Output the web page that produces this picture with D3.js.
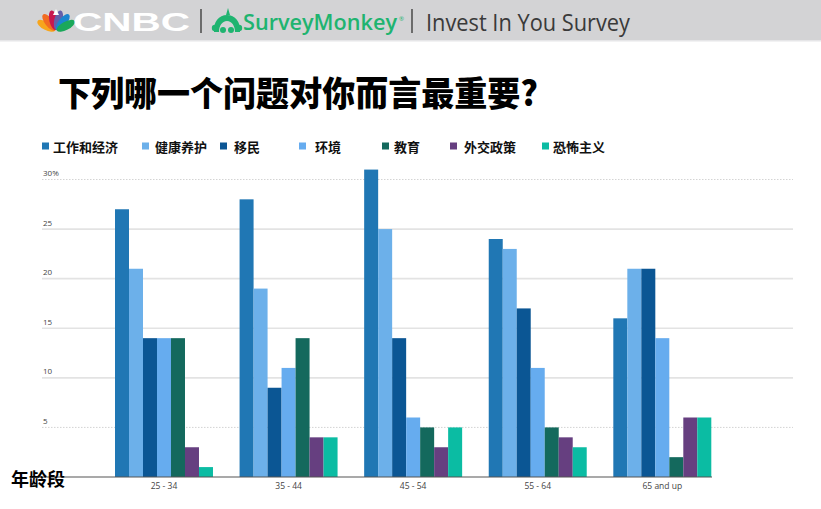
<!DOCTYPE html>
<html><head><meta charset="utf-8">
<script src="https://cdn.jsdelivr.net/npm/d3@7"></script>
<style>
html,body{margin:0;padding:0;background:#fff;}
svg{display:block;}
</style></head>
<body>
<svg id="chart" width="821" height="509"></svg>
<script>
// ---------- data ----------
const categories = ["25 - 34", "35 - 44", "45 - 54", "55 - 64", "65 and up"];
const seriesNames = ["工作和经济", "健康养护", "移民", "环境", "教育", "外交政策", "恐怖主义"];
const workEconomy   = [27, 28, 31, 24, 16];
const healthcare    = [21, 19, 25, 23, 21];
const immigration   = [14,  9, 14, 17, 21];
const environment   = [14, 11,  6, 11, 14];
const education     = [14, 14,  5,  5,  2];
const foreignPolicy = [ 3,  4,  3,  4,  6];
const terrorism     = [ 1,  4,  5,  3,  6];
const yTicks = [5, 10, 15, 20, 25, 30];
const yTickLabels = ["5", "10", "15", "20", "25", "30%"];
const title = "下列哪一个问题对你而言最重要?";
const xAxisTitle = "年龄段";

const seriesValues = [workEconomy, healthcare, immigration, environment, education, foreignPolicy, terrorism];
const colors = ["#2077b4", "#6cb0ea", "#0b5694", "#66acef", "#14695d", "#663f80", "#0bbca3"];

const svg = d3.select("#chart");

// ---------- header ----------
const header = svg.append("g");
header.append("rect").attr("x", 0).attr("y", 0).attr("width", 821).attr("height", 40).attr("fill", "#d3d3d5");
header.append("rect").attr("x", 0).attr("y", 40).attr("width", 821).attr("height", 1.5).attr("fill", "#e6e6e8");

// peacock
const peacock = header.append("g").attr("transform", "translate(56,31)");
const featherColors = ["#f7a51c", "#f26b21", "#c8174f", "#6460aa", "#1b86cf", "#1aa85a"];
const featherAngles = [-62, -38, -13, 13, 38, 62];
featherColors.forEach((c, i) => {
  peacock.append("ellipse")
    .attr("cx", 0).attr("cy", -11).attr("rx", 4.2).attr("ry", 10)
    .attr("fill", c)
    .attr("transform", `rotate(${featherAngles[i]})`);
});
peacock.append("path").attr("d", "M-3,-16 L0,-22 L3,-16 Z").attr("fill", "#fff");

header.append("text")
  .attr("x", 73).attr("y", 31)
  .attr("font-family", "Liberation Sans, Arial, sans-serif")
  .attr("font-weight", "900").attr("font-size", 26)
  .attr("fill", "#ffffff")
  .attr("textLength", 117).attr("lengthAdjust", "spacingAndGlyphs")
  .text("CNBC");

header.append("line").attr("x1", 201).attr("x2", 201).attr("y1", 9).attr("y2", 33)
  .attr("stroke", "#333").attr("stroke-width", 1.3);

// SurveyMonkey icon
const sm = header.append("g").attr("transform", "translate(227,24)").attr("fill", "#1fb470");
sm.append("path").attr("d", "M-13,8 C-14,-2 -8,-9 0,-9 C8,-9 14,-2 13,8 L8,8 C8,2 5,-3 0,-3 C-5,-3 -8,2 -8,8 Z");
sm.append("circle").attr("cx", -12).attr("cy", 4).attr("r", 3.2);
sm.append("circle").attr("cx", 12).attr("cy", 4).attr("r", 3.2);
sm.append("circle").attr("cx", -4).attr("cy", 6).attr("r", 3);
sm.append("circle").attr("cx", 4).attr("cy", 6).attr("r", 3);
sm.append("path").attr("d", "M-1,-9 L1,-16 L3,-9 Z");

header.append("text")
  .attr("x", 243).attr("y", 30)
  .attr("font-family", "Open Sans, sans-serif")
  .attr("font-weight", "600").attr("font-size", 21)
  .attr("fill", "#1fb470")
  .attr("textLength", 154).attr("lengthAdjust", "spacingAndGlyphs")
  .text("SurveyMonkey");
header.append("text")
  .attr("x", 399).attr("y", 21)
  .attr("font-family", "Open Sans, sans-serif")
  .attr("font-size", 6).attr("fill", "#1fb470")
  .text("®");

header.append("line").attr("x1", 412).attr("x2", 412).attr("y1", 9).attr("y2", 33)
  .attr("stroke", "#333").attr("stroke-width", 1.3);

header.append("text")
  .attr("x", 426).attr("y", 31)
  .attr("font-family", "Open Sans, sans-serif")
  .attr("font-weight", "400").attr("font-size", 23)
  .attr("fill", "#3a3a3a")
  .attr("textLength", 204).attr("lengthAdjust", "spacingAndGlyphs")
  .text("Invest In You Survey");

// ---------- title ----------
svg.append("text")
  .attr("x", 58).attr("y", 91)
  .attr("dominant-baseline", "central")
  .attr("font-family", "Noto Sans CJK SC, sans-serif")
  .attr("font-weight", "900").attr("font-size", 34)
  .attr("fill", "#000")
  .attr("textLength", 480).attr("lengthAdjust", "spacingAndGlyphs")
  .text(title);

// ---------- legend ----------
const legendSquareX = [42, 142, 220, 299, 382, 450, 542];
const legendTextX = [53, 155, 234, 315, 394, 464, 553];
const legend = svg.append("g");
seriesNames.forEach((name, i) => {
  legend.append("rect")
    .attr("x", legendSquareX[i]).attr("y", 142.5).attr("width", 7).attr("height", 7)
    .attr("fill", colors[i]);
  legend.append("text")
    .attr("x", legendTextX[i]).attr("y", 146)
    .attr("dominant-baseline", "central")
    .attr("font-family", "Noto Sans CJK SC, sans-serif")
    .attr("font-weight", "700").attr("font-size", 13)
    .attr("fill", "#111")
    .text(name);
});

// ---------- scales ----------
const y = d3.scaleLinear().domain([0, 30]).range([477, 179.5]);
const x0 = d3.scaleBand().domain(categories).range([115, 711.3]).paddingInner(0.2135).paddingOuter(0);
const x1 = d3.scaleBand().domain(seriesNames).range([0, x0.bandwidth()]).padding(0);

// gridlines + tick labels
const grid = svg.append("g");
yTicks.forEach((t, i) => {
  const dotted = (t === 5 || t === 30);
  grid.append("line")
    .attr("x1", 42).attr("x2", 793)
    .attr("y1", y(t)).attr("y2", y(t))
    .attr("stroke", dotted ? "#d4d4d4" : "#e3e3e3")
    .attr("stroke-width", dotted ? 1 : 1.6)
    .attr("stroke-dasharray", dotted ? "1.5,1.5" : null);
  grid.append("text")
    .attr("x", 43).attr("y", y(t) - 3.5)
    .attr("font-family", "Open Sans, sans-serif")
    .attr("font-size", 8)
    .attr("fill", "#444")
    .text(yTickLabels[i]);
});

// bars
const groups = svg.append("g").selectAll("g")
  .data(categories)
  .join("g")
  .attr("transform", d => `translate(${x0(d)},0)`);

groups.selectAll("rect")
  .data((d, ci) => seriesNames.map((s, si) => ({ s, si, v: seriesValues[si][ci] })))
  .join("rect")
  .attr("x", d => x1(d.s))
  .attr("y", d => y(d.v))
  .attr("width", x1.bandwidth())
  .attr("height", d => y(0) - y(d.v))
  .attr("fill", d => colors[d.si]);

// baseline axis
svg.append("line")
  .attr("x1", 30).attr("x2", 712)
  .attr("y1", y(0)).attr("y2", y(0))
  .attr("stroke", "#555").attr("stroke-width", 1.2);

// x axis labels
const xAxis = d3.axisBottom(x0).tickSize(0).tickPadding(5);
const xg = svg.append("g").attr("transform", `translate(0,${y(0) + 1})`).call(xAxis);
xg.select(".domain").remove();
xg.selectAll("text")
  .attr("font-family", "Open Sans, sans-serif")
  .attr("font-size", 8.5)
  .attr("fill", "#444");

// x axis title
svg.append("text")
  .attr("x", 11).attr("y", 478)
  .attr("dominant-baseline", "central")
  .attr("font-family", "Noto Sans CJK SC, sans-serif")
  .attr("font-weight", "700").attr("font-size", 18)
  .attr("fill", "#000")
  .text(xAxisTitle);
</script>
</body></html>
